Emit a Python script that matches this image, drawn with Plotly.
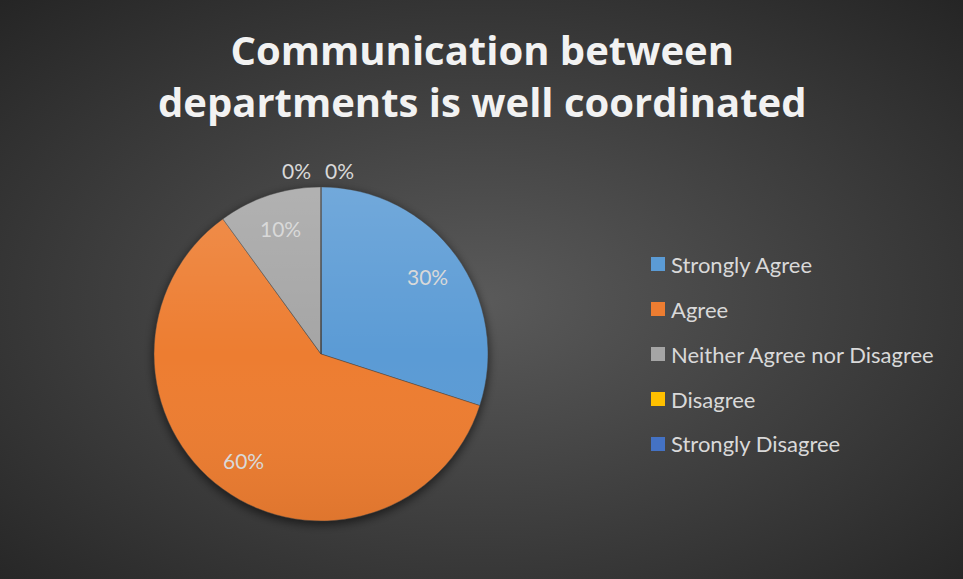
import base64
import math
import plotly.graph_objects as go

# ---- data -------------------------------------------------------------
categories = ["Strongly Agree", "Agree", "Neither Agree nor Disagree",
              "Disagree", "Strongly Disagree"]
shares = [30, 60, 10, 0, 0]          # percent of responses
colors = ["#5B9BD5", "#ED7D31", "#A5A5A5", "#FFC000", "#4472C4"]
title_text = "Communication between<br>departments is well coordinated"

# ---- layout geometry (pixels) ----------------------------------------
W, H = 963, 579
CX, CY, R = 321, 354, 167            # pie centre and radius
FONT = "Lato"
TITLE_FONT = "Open Sans"
LABEL_COLOR = "#D9D9D9"


def px_x(x):
    return x / W


def px_y(y):
    return 1 - y / H


def svg_uri(svg):
    return "data:image/svg+xml;base64," + base64.b64encode(svg.encode()).decode()


# radial background
bg_svg = (
    f'<svg xmlns="http://www.w3.org/2000/svg" width="{W}" height="{H}" '
    f'viewBox="0 0 {W} {H}" preserveAspectRatio="none">'
    '<defs><radialGradient id="g" cx="0.5" cy="0.52" r="0.72">'
    '<stop offset="0" stop-color="#5A5A5A"/>'
    '<stop offset="1" stop-color="#252525"/>'
    '</radialGradient></defs>'
    f'<rect width="{W}" height="{H}" fill="url(#g)"/></svg>'
)

# soft drop shadow under the pie
PAD = 30
S = 2 * (R + PAD)
shadow_svg = (
    f'<svg xmlns="http://www.w3.org/2000/svg" width="{S}" height="{S}" '
    f'viewBox="0 0 {S} {S}">'
    '<defs><filter id="b" x="-20%" y="-20%" width="140%" height="140%">'
    '<feGaussianBlur stdDeviation="5"/></filter></defs>'
    f'<circle cx="{S/2}" cy="{S/2 + 3}" r="{R + 1}" fill="#000" '
    'fill-opacity="0.55" filter="url(#b)"/></svg>'
)

# light-to-dark sheen laid over the slices
sheen_svg = (
    f'<svg xmlns="http://www.w3.org/2000/svg" width="{2*R}" height="{2*R}" '
    f'viewBox="0 0 {2*R} {2*R}">'
    '<defs><linearGradient id="s" x1="0" y1="0" x2="0" y2="1">'
    '<stop offset="0" stop-color="#FFFFFF" stop-opacity="0.14"/>'
    '<stop offset="0.5" stop-color="#FFFFFF" stop-opacity="0"/>'
    '<stop offset="1" stop-color="#000000" stop-opacity="0.06"/>'
    '</linearGradient></defs>'
    f'<circle cx="{R}" cy="{R}" r="{R}" fill="url(#s)"/></svg>'
)

fig = go.Figure()
fig.add_trace(go.Pie(
    labels=categories,
    values=shares,
    sort=False,
    direction="clockwise",
    rotation=0,
    marker=dict(colors=colors, line=dict(color="rgba(70,70,70,0.8)", width=0.6)),
    textinfo="none",
    hoverinfo="label+percent",
    showlegend=False,
    domain=dict(x=[px_x(CX - R), px_x(CX + R)],
                y=[px_y(CY + R), px_y(CY - R)]),
))

# ---- data labels, placed at each slice's mid-angle --------------------
annotations = []
total = sum(shares)
cum = 0
zero_shift = {3: -24, 4: 19}
for i, v in enumerate(shares):
    mid = 2 * math.pi * (cum + v / 2) / total
    cum += v
    d = 0.79 * R if v > 0 else 1.1 * R
    x = CX + d * math.sin(mid)
    y = CY - d * math.cos(mid)
    annotations.append(dict(
        x=px_x(x), y=px_y(y), xref="paper", yref="paper",
        xanchor="center", yanchor="middle",
        text=f"{round(100 * v / total)}%", showarrow=False,
        xshift=zero_shift.get(i, 0) if v == 0 else 0,
        font=dict(family=FONT, size=21, color=LABEL_COLOR),
    ))

# ---- legend -----------------------------------------------------------
shapes = []
LEG_X, LEG_Y0, LEG_DY, SQ = 651, 264, 45, 14
for i, (name, col) in enumerate(zip(categories, colors)):
    yc = LEG_Y0 + i * LEG_DY
    shapes.append(dict(type="rect", xref="paper", yref="paper",
                       x0=px_x(LEG_X), x1=px_x(LEG_X + SQ),
                       y0=px_y(yc + SQ / 2), y1=px_y(yc - SQ / 2),
                       fillcolor=col, line=dict(width=0)))
    annotations.append(dict(
        x=px_x(LEG_X + SQ + 4), y=px_y(yc), xref="paper", yref="paper",
        xanchor="left", yanchor="middle", text=name, showarrow=False,
        font=dict(family=FONT, size=22, color=LABEL_COLOR),
    ))

# ---- title -------------------------------------------------------------
annotations.append(dict(
    x=0.5, y=px_y(75), xref="paper", yref="paper", xanchor="center",
    yanchor="middle", text=f"<b>{title_text}</b>", showarrow=False,
    font=dict(family=TITLE_FONT, size=40, color="#F2F2F2"),
))

images = [
    dict(source=svg_uri(bg_svg), xref="paper", yref="paper", x=0, y=1,
         sizex=1, sizey=1, sizing="stretch", xanchor="left", yanchor="top",
         layer="below"),
    dict(source=svg_uri(shadow_svg), xref="paper", yref="paper",
         x=px_x(CX - R - PAD), y=px_y(CY - R - PAD),
         sizex=S / W, sizey=S / H, sizing="stretch",
         xanchor="left", yanchor="top", layer="below"),
    dict(source=svg_uri(sheen_svg), xref="paper", yref="paper",
         x=px_x(CX - R), y=px_y(CY - R),
         sizex=2 * R / W, sizey=2 * R / H, sizing="stretch",
         xanchor="left", yanchor="top", layer="above"),
]

fig.update_layout(
    width=W, height=H,
    margin=dict(l=0, r=0, t=0, b=0),
    paper_bgcolor="#3A3A3A",
    plot_bgcolor="rgba(0,0,0,0)",
    annotations=annotations,
    shapes=shapes,
    images=images,
    font=dict(family=FONT),
)

fig.write_html("out.html")
